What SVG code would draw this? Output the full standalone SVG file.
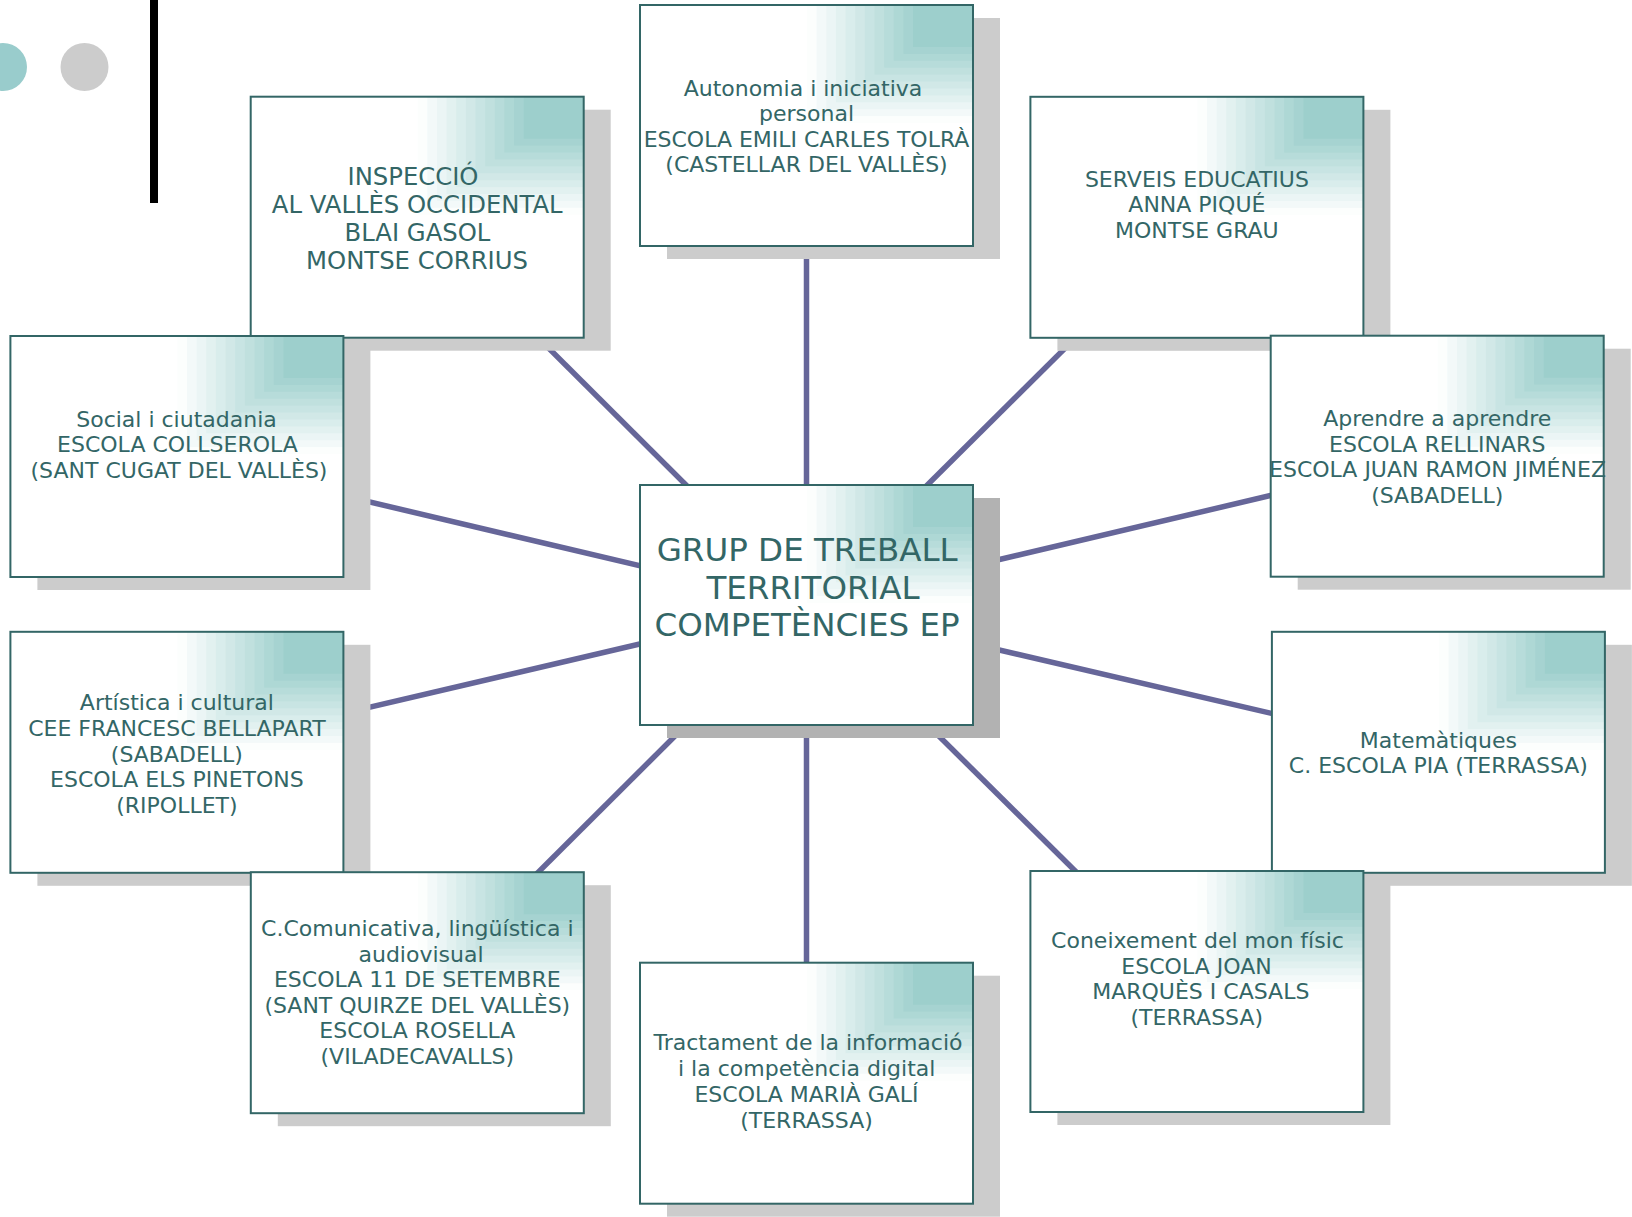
<svg xmlns="http://www.w3.org/2000/svg" xmlns:xlink="http://www.w3.org/1999/xlink" width="1632" height="1217" viewBox="0 0 1632 1217">
<style>
.sh{fill:#cccccc}
.shc{fill:#b2b2b2}
.bx{fill:#ffffff}
.bd{fill:none;stroke:#336666;stroke-width:2}
.t{font-family:'DejaVu Sans','Liberation Sans',sans-serif;font-size:22px;fill:#336666;text-anchor:middle}
.t24{font-size:24.3px}
.t32{font-size:32.5px}
.cn{stroke:#666699;stroke-width:5.5;fill:none}
</style>
<defs>
<g id="corner">
<rect x="-166" y="0" width="166" height="118" fill="#fcfefd"/>
<rect x="-156.4" y="0" width="156.4" height="111.1" fill="#f3f9f9"/>
<rect x="-146.7" y="0" width="146.7" height="104.2" fill="#ebf5f5"/>
<rect x="-137.1" y="0" width="137.1" height="97.3" fill="#e2f1f0"/>
<rect x="-127.5" y="0" width="127.5" height="90.4" fill="#d9edec"/>
<rect x="-117.8" y="0" width="117.8" height="83.5" fill="#d1e8e7"/>
<rect x="-108.2" y="0" width="108.2" height="76.5" fill="#c8e4e3"/>
<rect x="-98.5" y="0" width="98.5" height="69.6" fill="#c0e0de"/>
<rect x="-88.9" y="0" width="88.9" height="62.7" fill="#b7dcda"/>
<rect x="-79.3" y="0" width="79.3" height="55.8" fill="#aed8d5"/>
<rect x="-69.6" y="0" width="69.6" height="48.9" fill="#a6d3d1"/>
<rect x="-60" y="0" width="60" height="42" fill="#9dcfcc"/>
</g>
</defs>
<rect x="0" y="0" width="1632" height="1217" fill="#ffffff"/>
<g id="decor">
<circle cx="3" cy="67" r="24" fill="#99cccc"/>
<circle cx="84.5" cy="67" r="24" fill="#cccccc"/>
<rect x="150" y="0" width="8" height="203" fill="#000000"/>
</g>
<g id="connectors">
<line class="cn" x1="806.5" y1="605" x2="806.5" y2="125.5"/>
<line class="cn" x1="806.5" y1="605" x2="417.2" y2="217.2"/>
<line class="cn" x1="806.5" y1="605" x2="1196.9" y2="217.3"/>
<line class="cn" x1="806.5" y1="605" x2="176.9" y2="456.5"/>
<line class="cn" x1="806.5" y1="605" x2="1437.2" y2="456.2"/>
<line class="cn" x1="806.5" y1="605" x2="176.9" y2="752.3"/>
<line class="cn" x1="806.5" y1="605" x2="1438.4" y2="752.3"/>
<line class="cn" x1="806.5" y1="605" x2="417.3" y2="992.7"/>
<line class="cn" x1="806.5" y1="605" x2="1196.9" y2="991.5"/>
<line class="cn" x1="806.5" y1="605" x2="806.5" y2="1083.2"/>
</g>
<g id="node-autonomia">
<rect class="sh" x="667" y="18" width="333" height="241"/>
<rect class="bx" x="640" y="5" width="333" height="241"/>
<use xlink:href="#corner" href="#corner" x="973" y="5"/>
<rect class="bd" x="640" y="5" width="333" height="241"/>
<text class="t"><tspan x="803" y="95.5">Autonomia i iniciativa</tspan><tspan x="806.5" y="121.1">personal</tspan><tspan x="806.5" y="146.7">ESCOLA EMILI CARLES TOLRÀ</tspan><tspan x="806.5" y="172.3">(CASTELLAR DEL VALLÈS)</tspan></text>
</g>
<g id="node-inspeccio">
<rect class="sh" x="277.7" y="109.7" width="333" height="241"/>
<rect class="bx" x="250.7" y="96.7" width="333" height="241"/>
<use xlink:href="#corner" href="#corner" x="583.7" y="96.7"/>
<rect class="bd" x="250.7" y="96.7" width="333" height="241"/>
<text class="t t24"><tspan x="413" y="184.5">INSPECCIÓ</tspan><tspan x="417.2" y="212.5">AL VALLÈS OCCIDENTAL</tspan><tspan x="417.5" y="240.5">BLAI GASOL</tspan><tspan x="417" y="268.5">MONTSE CORRIUS</tspan></text>
</g>
<g id="node-serveis">
<rect class="sh" x="1057.4" y="109.8" width="333" height="241"/>
<rect class="bx" x="1030.4" y="96.8" width="333" height="241"/>
<use xlink:href="#corner" href="#corner" x="1363.4" y="96.8"/>
<rect class="bd" x="1030.4" y="96.8" width="333" height="241"/>
<text class="t"><tspan x="1196.9" y="186.7">SERVEIS EDUCATIUS</tspan><tspan x="1196.9" y="212.3">ANNA PIQUÉ</tspan><tspan x="1196.9" y="237.9">MONTSE GRAU</tspan></text>
</g>
<g id="node-social">
<rect class="sh" x="37.4" y="349" width="333" height="241"/>
<rect class="bx" x="10.4" y="336" width="333" height="241"/>
<use xlink:href="#corner" href="#corner" x="343.4" y="336"/>
<rect class="bd" x="10.4" y="336" width="333" height="241"/>
<text class="t"><tspan x="176.5" y="426.7">Social i ciutadania</tspan><tspan x="177.5" y="452.3">ESCOLA COLLSEROLA</tspan><tspan x="179" y="477.9">(SANT CUGAT DEL VALLÈS)</tspan></text>
</g>
<g id="node-aprendre">
<rect class="sh" x="1297.7" y="348.7" width="333" height="241"/>
<rect class="bx" x="1270.7" y="335.7" width="333" height="241"/>
<use xlink:href="#corner" href="#corner" x="1603.7" y="335.7"/>
<rect class="bd" x="1270.7" y="335.7" width="333" height="241"/>
<text class="t"><tspan x="1437.2" y="425.9">Aprendre a aprendre</tspan><tspan x="1437.2" y="451.5">ESCOLA RELLINARS</tspan><tspan x="1437.5" y="477.1">ESCOLA JUAN RAMON JIMÉNEZ</tspan><tspan x="1437.2" y="502.7">(SABADELL)</tspan></text>
</g>
<g id="node-artistica">
<rect class="sh" x="37.4" y="644.8" width="333" height="241"/>
<rect class="bx" x="10.4" y="631.8" width="333" height="241"/>
<use xlink:href="#corner" href="#corner" x="343.4" y="631.8"/>
<rect class="bd" x="10.4" y="631.8" width="333" height="241"/>
<text class="t"><tspan x="176.9" y="710.3">Artística i cultural</tspan><tspan x="176.9" y="735.9">CEE FRANCESC BELLAPART</tspan><tspan x="176.9" y="761.5">(SABADELL)</tspan><tspan x="176.9" y="787.1">ESCOLA ELS PINETONS</tspan><tspan x="176.9" y="812.7">(RIPOLLET)</tspan></text>
</g>
<g id="node-matematiques">
<rect class="sh" x="1298.9" y="644.8" width="333" height="241"/>
<rect class="bx" x="1271.9" y="631.8" width="333" height="241"/>
<use xlink:href="#corner" href="#corner" x="1604.9" y="631.8"/>
<rect class="bd" x="1271.9" y="631.8" width="333" height="241"/>
<text class="t"><tspan x="1438.4" y="747.6">Matemàtiques</tspan><tspan x="1438.4" y="773.2">C. ESCOLA PIA (TERRASSA)</tspan></text>
</g>
<g id="node-comunicativa">
<rect class="sh" x="277.8" y="885.2" width="333" height="241"/>
<rect class="bx" x="250.8" y="872.2" width="333" height="241"/>
<use xlink:href="#corner" href="#corner" x="583.8" y="872.2"/>
<rect class="bd" x="250.8" y="872.2" width="333" height="241"/>
<text class="t"><tspan x="417.3" y="936">C.Comunicativa, lingüística i</tspan><tspan x="421" y="961.6">audiovisual</tspan><tspan x="417.3" y="987.2">ESCOLA 11 DE SETEMBRE</tspan><tspan x="417.3" y="1012.8">(SANT QUIRZE DEL VALLÈS)</tspan><tspan x="417.3" y="1038.4">ESCOLA ROSELLA</tspan><tspan x="417.3" y="1064">(VILADECAVALLS)</tspan></text>
</g>
<g id="node-coneixement">
<rect class="sh" x="1057.4" y="884" width="333" height="241"/>
<rect class="bx" x="1030.4" y="871" width="333" height="241"/>
<use xlink:href="#corner" href="#corner" x="1363.4" y="871"/>
<rect class="bd" x="1030.4" y="871" width="333" height="241"/>
<text class="t"><tspan x="1197.5" y="948">Coneixement del mon físic</tspan><tspan x="1196.5" y="973.6">ESCOLA JOAN</tspan><tspan x="1200.8" y="999.2">MARQUÈS I CASALS</tspan><tspan x="1196.8" y="1024.8">(TERRASSA)</tspan></text>
</g>
<g id="node-tractament">
<rect class="sh" x="667" y="975.7" width="333" height="241"/>
<rect class="bx" x="640" y="962.7" width="333" height="241"/>
<use xlink:href="#corner" href="#corner" x="973" y="962.7"/>
<rect class="bd" x="640" y="962.7" width="333" height="241"/>
<text class="t"><tspan x="808" y="1050.3">Tractament de la informació</tspan><tspan x="806.7" y="1076.2">i la competència digital</tspan><tspan x="806.5" y="1102.1">ESCOLA MARIÀ GALÍ</tspan><tspan x="806.5" y="1128">(TERRASSA)</tspan></text>
</g>
<g id="node-central">
<rect class="shc" x="667" y="498" width="333" height="240"/>
<rect class="bx" x="640" y="485" width="333" height="240"/>
<use xlink:href="#corner" href="#corner" x="973" y="485"/>
<rect class="bd" x="640" y="485" width="333" height="240"/>
<text class="t t32"><tspan x="807.2" y="561">GRUP DE TREBALL</tspan><tspan x="813" y="598.7">TERRITORIAL</tspan><tspan x="807" y="636.4">COMPETÈNCIES EP</tspan></text>
</g>
</svg>
